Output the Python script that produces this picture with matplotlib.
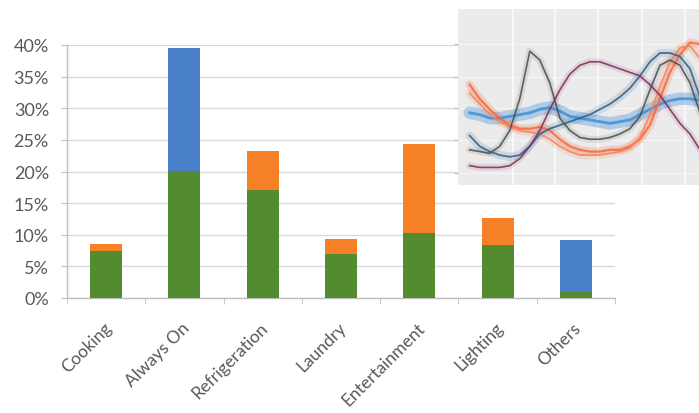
import matplotlib
matplotlib.use("Agg")
import matplotlib.pyplot as plt
from matplotlib.ticker import FuncFormatter, FixedLocator
import matplotlib.transforms as mtrans

plt.rcParams['font.family'] = ['Lato', 'DejaVu Sans']

# ---- main chart data (share of consumption, %) ----
categories = ["Cooking", "Always On", "Refrigeration", "Laundry",
              "Entertainment", "Lighting", "Others"]
base_pct = [7.4, 20.1, 17.0, 6.9, 10.3, 8.4, 0.9]          # green
orange_pct = [1.1, 0.0, 6.3, 2.4, 14.1, 4.3, 0.0]          # orange top
blue_pct = [0.0, 19.4, 0.0, 0.0, 0.0, 0.0, 8.3]            # blue top
y_ticks = [0, 5, 10, 15, 20, 25, 30, 35, 40]

# ---- inset: daily load profiles (arbitrary units) ----
hours = list(range(24))
orange_a = [57, 49, 43, 38, 34, 32, 32, 33, 31, 26, 22, 20, 19, 19, 20, 20, 22, 26, 34, 49, 64, 74, 81, 80]
orange_b = [52, 46, 40, 36, 33, 31, 30, 29, 26, 22, 19, 17, 17, 17, 18, 19, 21, 27, 40, 56, 70, 78, 79, 72]
blue_band = [41, 40, 38, 38, 39, 40, 41, 43, 44, 42, 39, 38, 37, 36, 35, 36, 37, 40, 43, 46, 48, 49, 49, 48]
dark_blue = [28, 22, 19, 17, 16, 17, 22, 29, 32, 34, 36, 38, 40, 43, 46, 50, 55, 62, 70, 75, 75, 73, 66, 50]
gray_line = [20, 19, 18, 22, 31, 49, 76, 71, 58, 38, 31, 27, 26, 26, 27, 29, 32, 39, 54, 68, 71, 68, 58, 41]
purple = [11, 10, 10, 10, 11, 15, 22, 31, 43, 54, 63, 68, 70, 70, 68, 66, 64, 62, 57, 51, 43, 35, 29, 20]

GREEN = "#538b2f"
ORANGE = "#f58025"
BLUE = "#4a80c9"
TXT = "#595959"

fig = plt.figure(figsize=(6.99, 4.14), dpi=100)
ax = fig.add_axes([67/699, 1-299/414, (615-67)/699, (299-46)/414])

x = list(range(len(categories)))
w = 0.41
ax.bar(x, base_pct, width=w, color=GREEN, zorder=3)
tops = [b for b in base_pct]
ax.bar(x, orange_pct, width=w, bottom=tops, color=ORANGE, zorder=3)
ax.bar(x, blue_pct, width=w, bottom=tops, color=BLUE, zorder=3)

ax.set_xlim(-0.5, len(categories) - 0.5)
ax.set_ylim(0, 40)
ax.set_yticks(y_ticks)
ax.yaxis.set_major_formatter(FuncFormatter(lambda v, p: f"{int(v)}%"))
ax.grid(axis='y', color="#d9d9d9", lw=1, zorder=0)
ax.set_axisbelow(True)

ax.set_xticks(x)
ax.set_xticklabels(categories, rotation=45, ha='right', rotation_mode='anchor')
ax.xaxis.set_minor_locator(FixedLocator([i - 0.5 for i in range(len(categories) + 1)]))
ax.tick_params(axis='x', which='major', length=0, pad=15, labelsize=12.5, labelcolor=TXT)
ax.tick_params(axis='x', which='minor', length=4, color="#bfbfbf", direction='out')
ax.tick_params(axis='y', length=4, color="#bfbfbf", labelsize=13, labelcolor=TXT, pad=9)

for lab in ax.get_xticklabels():
    lab.set_transform(lab.get_transform() + mtrans.ScaledTranslation(-3/100, 0, fig.dpi_scale_trans))

for s in ['top', 'right']:
    ax.spines[s].set_visible(False)
for s in ['left', 'bottom']:
    ax.spines[s].set_color("#bfbfbf")
    ax.spines[s].set_linewidth(1)

# ---- inset ----
ins = fig.add_axes([458/699, 1-186/414, 241/699, 176/414], zorder=5)
ins.set_facecolor("#ebebeb")
ins.set_xlim(-1.17, 22.9)
ins.set_ylim(0, 100)
for gx in [4.3, 8.5, 12.8, 17.2, 21.5]:
    ins.axvline(gx, color="white", lw=1.2, alpha=0.8, zorder=0)
for gy in [7, 25.7, 43.8, 61.5, 80]:
    ins.axhline(gy, color="white", lw=0.8, alpha=0.6, zorder=0)

series = [
    (blue_band, "#3d8fd8", 9, 0.35, 2.0),
    (orange_a, "#f46a3c", 6, 0.22, 1.6),
    (orange_b, "#f4845c", 6, 0.18, 1.3),
    (dark_blue, "#2b5f8a", 6, 0.15, 1.3),
    (gray_line, "#4a4a4a", 5, 0.12, 1.2),
    (purple, "#7a2a5c", 5, 0.12, 1.2),
]
for vals, col, bw, ba, lw in series:
    ins.plot(hours, vals, color=col, lw=bw, alpha=ba, solid_capstyle='round', zorder=2)
for vals, col, bw, ba, lw in series:
    ins.plot(hours, vals, color=col, lw=lw, alpha=0.85, zorder=3)

ins.set_xticks([])
ins.set_yticks([7, 25.7, 43.8, 61.5, 80])
ins.set_yticklabels([])
ins.tick_params(axis='y', length=3, color="#bbbbbb")
for s in ins.spines.values():
    s.set_visible(False)

fig.savefig("out.png", dpi=100)
